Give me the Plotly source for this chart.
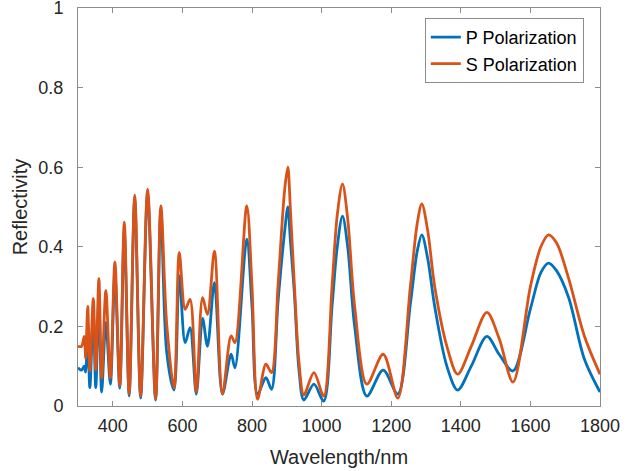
import plotly.graph_objects as go

# Wavelength (nm) sample points
wl = [300, 310, 318, 322, 328, 334, 344, 351, 360, 368, 380, 393, 406, 420, 433, 447, 463, 480,
      500, 523, 538, 555, 576, 591, 608, 622, 640, 658, 672, 692, 715, 740, 751, 785, 800, 816,
      840, 856, 875, 894, 903, 910, 922, 935, 949, 978, 1006, 1030, 1045, 1060, 1075, 1095,
      1130, 1177, 1219, 1255, 1275, 1288, 1305, 1325, 1360, 1391, 1430, 1475, 1510, 1550,
      1600, 1630, 1652, 1675, 1710, 1755, 1800]

s_pol = [0.150, 0.150, 0.175, 0.120, 0.250, 0.088, 0.270, 0.090, 0.320, 0.070, 0.290, 0.070,
         0.362, 0.050, 0.462, 0.030, 0.530, 0.025, 0.545, 0.018, 0.503, 0.205, 0.045, 0.385,
         0.243, 0.268, 0.035, 0.272, 0.230, 0.389, 0.030, 0.176, 0.159, 0.503, 0.300, 0.017,
         0.105, 0.084, 0.306, 0.545, 0.600, 0.500, 0.300, 0.110, 0.028, 0.084, 0.025, 0.300,
         0.480, 0.558, 0.470, 0.250, 0.055, 0.130, 0.020, 0.300, 0.460, 0.508, 0.440, 0.300,
         0.150, 0.080, 0.150, 0.235, 0.170, 0.060, 0.300, 0.400, 0.430, 0.410, 0.320, 0.176,
         0.080]

p_pol = [0.096, 0.090, 0.100, 0.085, 0.210, 0.046, 0.230, 0.046, 0.270, 0.035, 0.210, 0.055,
         0.330, 0.045, 0.440, 0.025, 0.520, 0.020, 0.535, 0.015, 0.490, 0.134, 0.040, 0.327,
         0.159, 0.197, 0.030, 0.220, 0.150, 0.310, 0.030, 0.130, 0.096, 0.419, 0.250, 0.030,
         0.071, 0.042, 0.264, 0.440, 0.500, 0.420, 0.280, 0.090, 0.015, 0.055, 0.012, 0.250,
         0.400, 0.477, 0.400, 0.200, 0.025, 0.090, 0.030, 0.256, 0.390, 0.430, 0.370, 0.250,
         0.100, 0.040, 0.100, 0.175, 0.130, 0.088, 0.244, 0.335, 0.359, 0.340, 0.272, 0.118,
         0.035]

x_ticks = [400, 600, 800, 1000, 1200, 1400, 1600, 1800]
y_ticks = [0, 0.2, 0.4, 0.6, 0.8, 1]
y_tick_text = ["0", "0.2", "0.4", "0.6", "0.8", "1"]

FONT = "Liberation Sans, Arial"
fig = go.Figure()
fig.add_trace(go.Scatter(x=wl, y=p_pol, mode="lines", name="P Polarization",
                         line=dict(color="#0072BD", width=2.8, shape="spline", smoothing=0.9)))
fig.add_trace(go.Scatter(x=wl, y=s_pol, mode="lines", name="S Polarization",
                         line=dict(color="#D95319", width=2.8, shape="spline", smoothing=0.9)))

axis_common = dict(showline=True, linecolor="#8c8c8c", linewidth=1, mirror="ticks",
                   ticks="inside", ticklen=5, tickcolor="#8c8c8c", showgrid=False,
                   zeroline=False, ticklabeloverflow="allow", automargin=False,
                   tickfont=dict(family=FONT, size=18, color="#262626"))

fig.update_layout(
    width=627, height=471,
    margin=dict(l=78, r=27, t=8, b=65),
    paper_bgcolor="white", plot_bgcolor="white",
    xaxis=dict(range=[300, 1800], tickvals=x_ticks, ticklabelstandoff=3,
               title=dict(text="Wavelength/nm", font=dict(family=FONT, size=20, color="#262626"), standoff=15),
               **axis_common),
    yaxis=dict(range=[0, 1], tickvals=y_ticks, ticktext=y_tick_text, ticklabelstandoff=10,
               title=dict(text="Reflectivity", font=dict(family=FONT, size=20, color="#262626"), standoff=5),
               **axis_common),
    legend=dict(x=0.969, y=0.975, xanchor="right", yanchor="top",
                bgcolor="white", bordercolor="#8c8c8c", borderwidth=1,
                font=dict(family=FONT, size=18, color="#000000"),
                tracegroupgap=0, itemwidth=30, entrywidth=150, entrywidthmode="pixels"),
    showlegend=True,
)

fig.write_html("out.html")
